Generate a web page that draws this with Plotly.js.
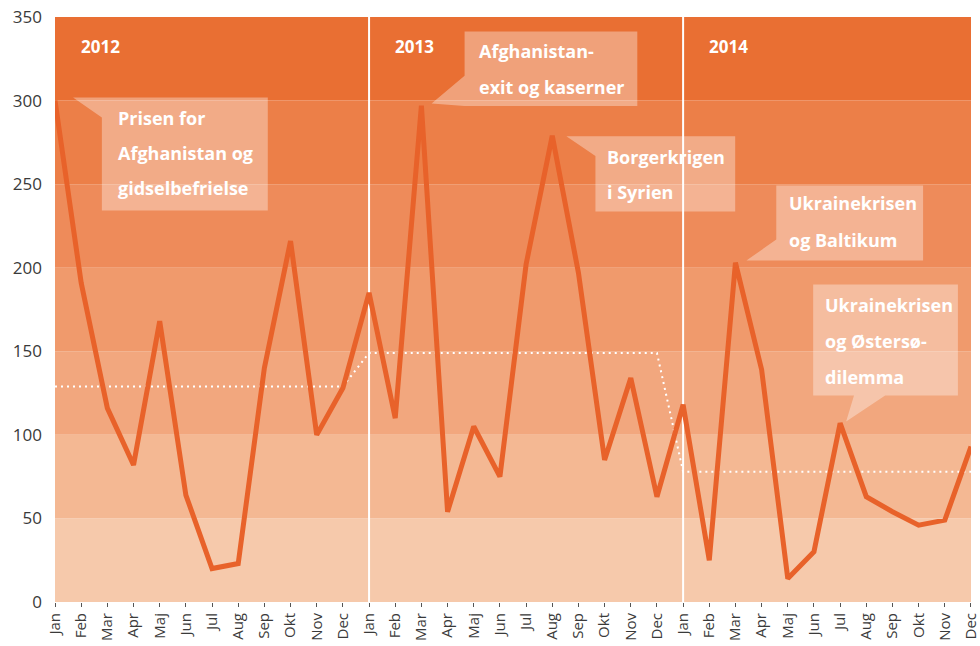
<!DOCTYPE html>
<html>
<head>
<meta charset="utf-8">
<script src="https://cdn.plot.ly/plotly-3.0.1.min.js"></script>
<style>html,body{margin:0;padding:0;background:#fff;}#chart{width:980px;height:646px;}</style>
</head>
<body>
<div id="chart"></div>
<script>
// Month tick labels (Norwegian)
const monthLabels = ["Jan","Feb","Mar","Apr","Maj","Jun","Jul","Aug","Sep","Okt","Nov","Dec"];
const years = ["2012","2013","2014"];

// Monthly values, Jan 2012 .. Dec 2014
const values2012 = [300, 191, 116, 82, 168, 64, 20, 23, 140, 216, 100, 128];
const values2013 = [185, 110, 297, 54, 105, 75, 202, 279, 197, 85, 134, 63];
const values2014 = [118, 25, 203, 139, 14, 30, 107, 63, 54, 46, 49, 93];

// Yearly averages (dotted line)
const avg2012 = 129;
const avg2013 = 149;
const avg2014 = 78;

// Background band limits
const bandEdges = [0, 50, 100, 150, 200, 250, 300, 350];
const bandColors = ["#F6C9AB", "#F4B893", "#F2A77E", "#F09A6C", "#EE8B5A", "#EC7F48", "#E96F33"];

const values = values2012.concat(values2013, values2014);
const xIdx = values.map((_, i) => i);
const tickText = [].concat(monthLabels, monthLabels, monthLabels);
const avgVals = [].concat(values2012.map(() => avg2012), values2013.map(() => avg2013), values2014.map(() => avg2014));

const shapes = [];
for (let i = 0; i < bandColors.length; i++) {
  shapes.push({type: "rect", xref: "paper", yref: "y", x0: 0, x1: 1, y0: bandEdges[i], y1: bandEdges[i + 1],
    fillcolor: bandColors[i], line: {width: 0}, layer: "below"});
}

// Callout boxes (white translucent), polygons in data coordinates
const boxFill = "rgba(255,255,255,0.35)";
const boxes = [
  "M 0.69,301.8 L 8.13,301.8 L 8.13,234.2 L 1.79,234.2 L 1.79,289.9 Z",
  "M 15.65,341.3 L 22.25,341.3 L 22.25,296.7 L 15.65,296.7 L 14.39,298.2 L 15.65,314.9 Z",
  "M 19.54,278.7 L 25.99,278.7 L 25.99,233.6 L 20.65,233.6 L 20.65,266.8 Z",
  "M 27.56,249.2 L 33.17,249.2 L 33.17,204.3 L 26.42,204.3 L 27.56,216.9 Z",
  "M 28.97,190 L 34.5,190 L 34.5,123.6 L 31.72,123.6 L 30.23,108 L 30.53,123.6 L 28.97,123.6 Z"
];
boxes.forEach(p => shapes.push({type: "path", xref: "x", yref: "y", path: p, fillcolor: boxFill, line: {width: 0}, layer: "below"}));

// Year separators
[12, 24].forEach(xv => shapes.push({type: "line", xref: "x", yref: "paper", x0: xv, x1: xv, y0: 0, y1: 1,
  line: {color: "#FFFFFF", width: 2}, layer: "below"}));

const txtFont = {family: "Open Sans, sans-serif", size: 18, color: "#FFFFFF", weight: "bold"};
const annotations = [];
function addLines(xpx, ypxList, lines) {
  lines.forEach((t, i) => annotations.push({
    xref: "x", yref: "y", x: (xpx - 55) / 26.2, y: (602.5 - ypxList[i]) / 1.6714,
    text: "<b>" + t + "</b>", showarrow: false, xanchor: "left", yanchor: "middle", font: txtFont
  }));
}
addLines(116, [119, 154, 189], ["Prisen for", "Afghanistan og", "gidselbefrielse"]);
addLines(477, [52, 88], ["Afghanistan-", "exit og kaserner"]);
addLines(606, [158, 193], ["Borgerkrigen", "i Syrien"]);
addLines(788, [204, 241], ["Ukrainekrisen", "og Baltikum"]);
addLines(824, [306, 341, 377], ["Ukrainekrisen", "og Østersø-", "dilemma"]);

// Year labels
years.forEach((y, i) => annotations.push({
  xref: "x", yref: "y", x: 12 * i + 1.72, y: (602.5 - 47) / 1.6714, text: "<b>" + y + "</b>",
  showarrow: false, xanchor: "center", yanchor: "middle",
  font: {family: "Open Sans, sans-serif", size: 17, color: "#FFFFFF"}
}));

const traces = [
  {x: xIdx, y: avgVals, mode: "lines", line: {color: "#FFFFFF", width: 2, dash: "2px,4px"}, hoverinfo: "skip"},
  {x: xIdx, y: values, mode: "lines", line: {color: "#E8622A", width: 5}, hoverinfo: "skip"}
];

const layout = {
  width: 980, height: 646,
  margin: {l: 55, r: 9, t: 17, b: 44, autoexpand: false},
  paper_bgcolor: "#FFFFFF", plot_bgcolor: "rgba(0,0,0,0)",
  showlegend: false,
  font: {family: "Open Sans, sans-serif", color: "#3a3a3a"},
  xaxis: {range: [-0.0005, 35.0005], tickvals: xIdx, ticktext: tickText, tickangle: -90,
    showgrid: false, zeroline: false, showline: false,
    ticks: "outside", ticklen: 4, tickwidth: 1, tickcolor: "#555",
    ticklabeloverflow: "allow",
    tickfont: {size: 15, color: "#3a3a3a"}, automargin: false},
  yaxis: {range: [0, 350], tickvals: [0, 50, 100, 150, 200, 250, 300, 350],
    showgrid: false, zeroline: false, showline: false, ticks: "", ticklabelstandoff: 12,
    tickfont: {size: 17, color: "#3a3a3a"}, automargin: false},
  shapes: shapes,
  annotations: annotations
};

Plotly.newPlot("chart", traces, layout, {displayModeBar: false, staticPlot: true});
</script>
</body>
</html>
